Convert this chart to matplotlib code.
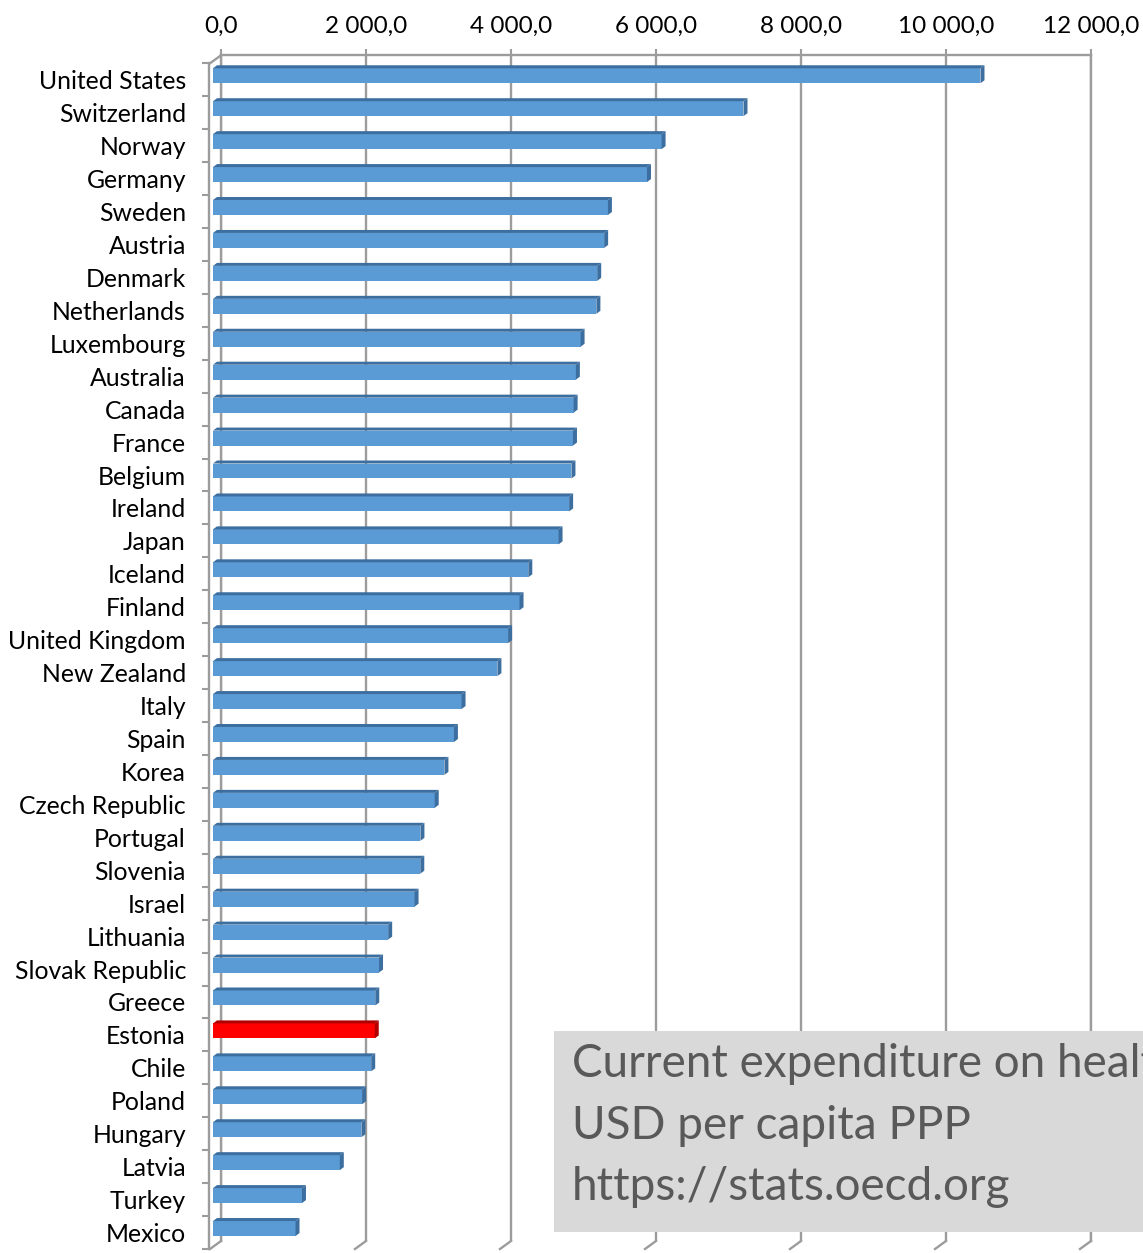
import numpy as np
import matplotlib
matplotlib.use('Agg')
import matplotlib.pyplot as plt
from matplotlib.patches import Polygon, Rectangle
from matplotlib.lines import Line2D
from matplotlib.transforms import IdentityTransform, ScaledTranslation

# data (USD per capita, PPP)
countries = ["United States", "Switzerland", "Norway", "Germany", "Sweden", "Austria",
             "Denmark", "Netherlands", "Luxembourg", "Australia", "Canada", "France",
             "Belgium", "Ireland", "Japan", "Iceland", "Finland", "United Kingdom",
             "New Zealand", "Italy", "Spain", "Korea", "Czech Republic", "Portugal",
             "Slovenia", "Israel", "Lithuania", "Slovak Republic", "Greece", "Estonia",
             "Chile", "Poland", "Hungary", "Latvia", "Turkey", "Mexico"]
values = [10586, 7317, 6187, 5986, 5447, 5395,
          5299, 5288, 5070, 5005, 4974, 4965,
          4944, 4912, 4766, 4349, 4228, 4070,
          3923, 3428, 3323, 3192, 3058, 2861,
          2859, 2780, 2416, 2290, 2238, 2231,
          2182, 2056, 2047, 1749, 1227, 1138]
highlight = "Estonia"
xticks = [0, 2000, 4000, 6000, 8000, 10000, 12000]
xtick_labels = ["0,0", "2 000,0", "4 000,0", "6 000,0", "8 000,0", "10 000,0", "12 000,0"]
note_lines = ["Current expenditure on health", "USD per capita PPP", "https://stats.oecd.org"]

W, H, dpi = 1143, 1253, 100
fig = plt.figure(figsize=(W / dpi, H / dpi), dpi=dpi)
plt.rcParams['font.family'] = ['Lato', 'DejaVu Sans']

grid_col = '#9c9c9c'
blue, blue_dark = '#5b9bd5', '#3c6e9f'
red, red_dark = '#ff0000', '#b00000'

left_px, right_px = 213, 1083
top_px, bot_px = 63.3, 1249
dx_back, dy_back = 8, 8

def fx(px):
    return px / W

def fy(py):
    return 1 - py / H

w_ax = (right_px - left_px) / W
h_ax = (bot_px - top_px) / H

# back wall with gridlines and value labels
ax_back = fig.add_axes([fx(left_px + dx_back), fy(bot_px - dy_back), w_ax, h_ax])
ax_back.set_xlim(0, 12000)
ax_back.set_ylim(0, 1)
ax_back.xaxis.tick_top()
ax_back.set_xticks(xticks)
ax_back.set_xticklabels(xtick_labels, fontsize=17.5, color='#000000')
ax_back.tick_params(axis='x', length=4, width=1.5, color=grid_col, pad=9)
ax_back.set_yticks([])
ax_back.grid(axis='x', color=grid_col, lw=1.7)
for s in ['top', 'left', 'right']:
    ax_back.spines[s].set_color(grid_col)
    ax_back.spines[s].set_linewidth(1.7)
ax_back.spines['bottom'].set_visible(False)

# front plane with the bars and categories
n = len(countries)
ax = fig.add_axes([fx(left_px), fy(bot_px), w_ax, h_ax])
ax.set_facecolor('none')
ax.set_xlim(0, 12000)
ax.set_ylim(n - 0.5, -0.5)
for s in ['top', 'right', 'bottom']:
    ax.spines[s].set_visible(False)
ax.spines['left'].set_position(('outward', 3))
ax.spines['left'].set_color(grid_col)
ax.spines['left'].set_linewidth(1.7)
ax.set_xticks([])
ax.set_yticks(range(n))
ax.set_yticklabels(countries, fontsize=17.8)
ax.set_yticks(np.arange(n + 1) - 0.5, minor=True)
ax.tick_params(axis='y', which='major', length=0, pad=16.5)
ax.tick_params(axis='y', which='minor', length=5, width=1.5, color=grid_col)

colors = [red if c == highlight else blue for c in countries]
darks = [red_dark if c == highlight else blue_dark for c in countries]
bars = ax.barh(range(n), values, height=0.455, color=colors, zorder=3)
bar_trans = ax.transData + ScaledTranslation(0, 4 / dpi, fig.dpi_scale_trans)
for b in bars:
    b.set_transform(bar_trans)

# 3d top and side faces
dx, dy = 4, 3
for i, b in enumerate(bars):
    (x0, y0), (x1, y1) = bar_trans.transform([(b.get_x(), b.get_y()),
                                              (b.get_x() + b.get_width(), b.get_y() + b.get_height())])
    yb, yt = min(y0, y1), max(y0, y1)
    top = Polygon([(x0, yt), (x1, yt), (x1 + dx, yt + dy), (x0 + dx, yt + dy)],
                  closed=True, transform=IdentityTransform(), color=darks[i], lw=0, zorder=3)
    side = Polygon([(x1, yb), (x1, yt), (x1 + dx, yt + dy), (x1 + dx, yb + dy)],
                   closed=True, transform=IdentityTransform(), color=darks[i], lw=0, zorder=3)
    fig.add_artist(top)
    fig.add_artist(side)

# floor / wall edges going to the front
for v in xticks:
    bx, by = ax_back.transData.transform((v, 0))
    fig.add_artist(Line2D([bx, bx - 11], [by, by - 8], transform=IdentityTransform(),
                          color=grid_col, lw=1.7))
bx, by = ax_back.transData.transform((0, 1))
fig.add_artist(Line2D([bx, bx - 11], [by, by - 8], transform=IdentityTransform(),
                      color=grid_col, lw=1.7))

# note box (text runs past the right edge, as in the original)
fig.add_artist(Rectangle((fx(554), fy(1232)), (1160 - 554) / W, (1232 - 1031) / H,
                         transform=fig.transFigure, color='#d9d9d9', lw=0, zorder=5))
for line, base in zip(note_lines, [1077, 1139, 1200]):
    fig.text(fx(572), fy(base), line, fontsize=33, color='#595959', va='baseline', zorder=6)

fig.savefig('out.png', dpi=dpi)
